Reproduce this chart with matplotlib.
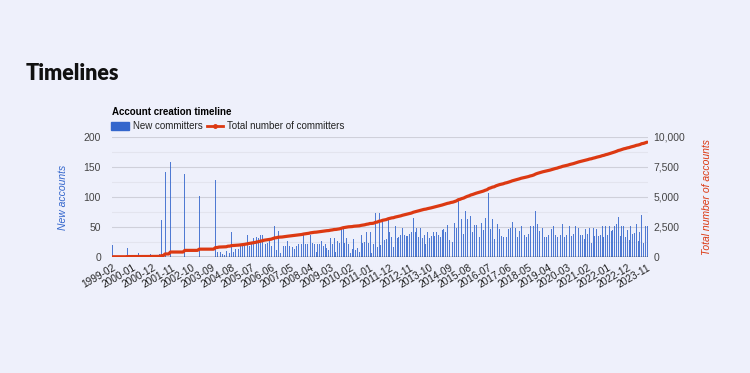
import matplotlib
matplotlib.use("Agg")
import matplotlib.pyplot as plt
import numpy as np
from matplotlib.patches import Rectangle
from matplotlib.lines import Line2D

# ---------------- data ----------------
start_year, start_month = 1999, 2
new_committers = [
    # 1999-02 .. 2003-11
    20, 0, 0, 0, 0, 0, 0, 0, 15, 0, 0, 0, 0, 0, 7, 0, 0, 0, 0, 0, 0, 5, 0, 0, 0, 0, 5, 62, 0, 141,
    0, 0, 159, 0, 0, 0, 0, 0, 0, 0, 138, 0, 0, 0, 0, 0, 0, 0, 102, 0, 0, 0, 0, 0, 0, 0, 0, 129,
    # 2003-12 ..
    9, 35, 8, 5, 3, 10, 48, 7,
    42, 9, 13, 8, 13, 18, 19, 18, 32, 37, 19, 23, 32, 21, 34, 32, 36, 37, 46, 21, 24, 26, 19, 57,
    52, 12, 43, 7, 8, 18, 19, 26, 19, 26, 17, 13, 18, 22, 11, 21, 37, 22, 21, 23, 37, 23, 21, 9,
    21, 22, 26, 19, 21, 15, 11, 32, 21, 32, 9, 26, 23, 46, 46, 23, 32, 21, 6, 13, 30, 12, 15, 9,
    36, 23, 25, 42, 24, 42, 6, 21, 74, 17, 73, 20, 58, 28, 30, 64, 42, 34, 17, 52, 31, 34, 36, 49,
    36, 35, 35, 39, 41, 65, 41, 49, 34, 49, 32, 36, 21, 41, 31, 35, 41, 35, 41, 36, 34, 45, 46, 41,
    53, 28, 48, 25, 56, 49, 96, 36, 64, 39, 76, 64, 49, 69, 42, 54, 54, 42, 34, 56, 45, 65, 46,
    106,
    47, 63, 30, 79, 55, 47, 35, 33, 57, 33, 47, 48, 59, 41, 49, 33, 44, 51, 29, 37,
    33, 38, 51, 33, 51, 77, 55, 44, 41, 48, 33, 34, 37, 35, 47, 51, 37, 33, 55, 37, 55, 33,
    37, 33, 51, 35, 38, 51, 44, 49, 37, 37, 30,
    47, 38, 48, 24, 48, 35,
    47, 35, 37, 52, 33, 52, 37, 51,
    44, 45, 51, 55, 66, 35, 51, 52, 33, 45, 29, 51, 38, 40, 55, 27, 42, 70, 24, 51, 52,
]
months = []
for i in range(len(new_committers)):
    m = start_month - 1 + i
    months.append(f"{start_year + m // 12}-{m % 12 + 1:02d}")
total_committers = np.cumsum(new_committers)
tick_step = 11
left_ticks = [0, 50, 100, 150, 200]
right_ticks = [0, 2500, 5000, 7500, 10000]

# ---------------- style ----------------
W, H = 750, 373
BG = "#eef0fb"
BLUE = "#3366cc"
RED = "#dc3912"
FONT = "Liberation Sans"

fig = plt.figure(figsize=(W / 100, H / 100), dpi=100, facecolor=BG)

def fx(px):
    return px / W

def fy(py):
    return 1 - py / H

L, R, T, B = 112, 648, 137, 257
ax = fig.add_axes([fx(L), fy(B), fx(R) - fx(L), fy(T) - fy(B)])
ax.set_facecolor(BG)
ax2 = ax.twinx()

x = np.arange(len(new_committers))
ax.bar(x, new_committers, width=0.5, color=BLUE, alpha=0.85, linewidth=0, zorder=3)
ax2.plot(x, total_committers, color=RED, lw=2.3, solid_capstyle="round", zorder=4)

ax.set_xlim(-0.5, len(x) - 0.5)
ax.set_ylim(0, 200)
ax2.set_ylim(0, 10000)

# gridlines
for v in range(25, 200, 50):
    ax.axhline(v, color="#e3e4ee", lw=0.8, zorder=1)
for v in left_ticks[1:]:
    ax.axhline(v, color="#cfd0da", lw=0.8, zorder=1)
ax.axhline(0, color="#333333", lw=1.0, zorder=5)

for a in (ax, ax2):
    for s in a.spines.values():
        s.set_visible(False)
    a.tick_params(length=0)

ax.set_yticks(left_ticks)
ax.set_yticklabels([str(v) for v in left_ticks], fontsize=7.5, color="#444444", family=FONT)
ax.tick_params(axis="y", pad=8)
ax2.set_yticks(right_ticks)
ax2.set_yticklabels([f"{v:,}" for v in right_ticks], fontsize=7.5, color="#444444", family=FONT)
ax2.tick_params(axis="y", pad=4)

tick_pos = list(range(0, len(x), tick_step))
ax.set_xticks(tick_pos)
ax.set_xticklabels([months[i] for i in tick_pos], rotation=30, ha="right",
                   rotation_mode="anchor", fontsize=7.3, color="#222222", family=FONT)
ax.tick_params(axis="x", pad=4)

ax.set_ylabel("New accounts", fontsize=7.5, color=BLUE, style="italic", family=FONT, labelpad=11)
ax2.set_ylabel("Total number of accounts", fontsize=7.5, color=RED, style="italic",
               family=FONT, labelpad=12)

# titles
fig.text(fx(26), fy(74), "Timelines", fontsize=15.5, fontweight="heavy", family="Lato",
         color="#111111", va="center", ha="left")
fig.text(fx(112), fy(112), "Account creation timeline", fontsize=7, fontweight="bold",
         family=FONT, color="#000000", va="center", ha="left")

# legend
fig.patches.append(Rectangle((fx(111), fy(130)), fx(18), fy(122) - fy(130),
                             transform=fig.transFigure, color=BLUE, zorder=5))
fig.text(fx(133), fy(126), "New committers", fontsize=7, family=FONT, color="#222222",
         va="center", ha="left")
fig.lines.append(Line2D([fx(207), fx(223)], [fy(126), fy(126)], transform=fig.transFigure,
                        color=RED, lw=2))
fig.lines.append(Line2D([fx(215)], [fy(126)], transform=fig.transFigure,
                        color=RED, marker="o", markersize=2.5, lw=0))
fig.text(fx(227), fy(126), "Total number of committers", fontsize=7, family=FONT,
         color="#222222", va="center", ha="left")

fig.savefig("out.png", dpi=100, facecolor=BG)
